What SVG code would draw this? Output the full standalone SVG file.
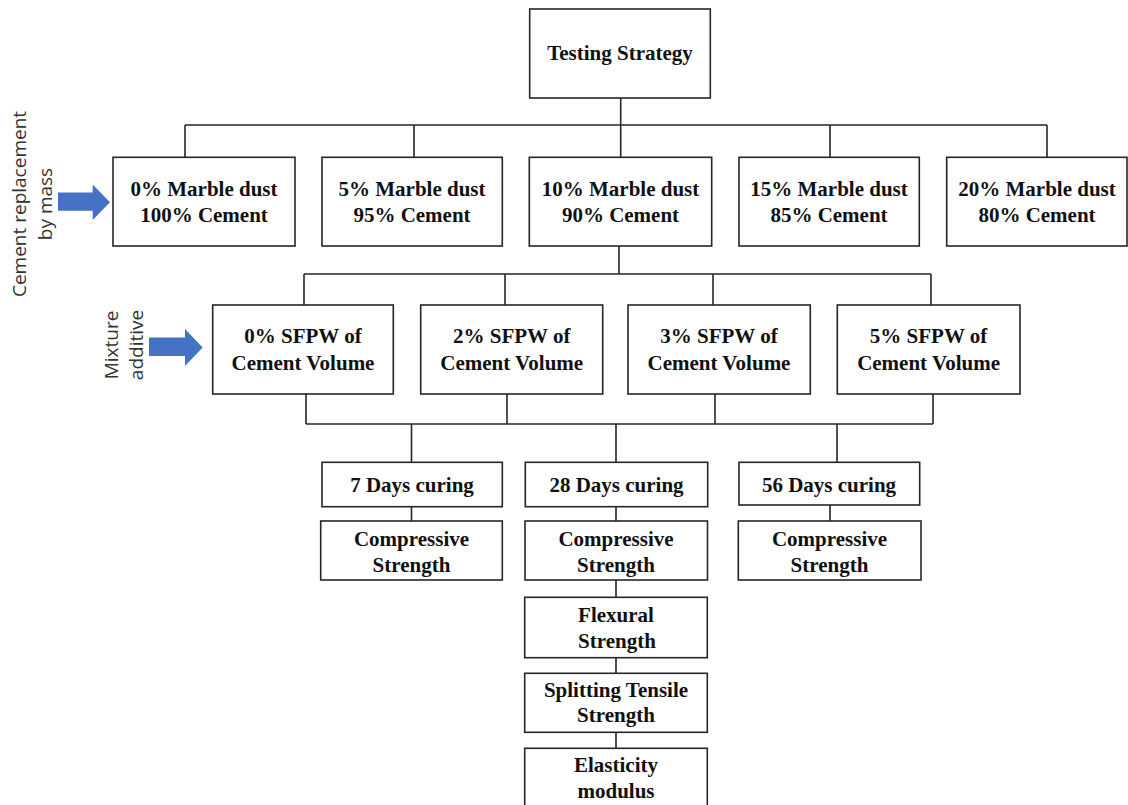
<svg xmlns="http://www.w3.org/2000/svg" width="1128" height="805" viewBox="0 0 1128 805">
<style>
.box{fill:#fff;stroke:#262626;stroke-width:1.6}
.t{font-family:"Liberation Serif","Times New Roman",serif;font-weight:bold;font-size:21px;fill:#111;text-anchor:middle}
.s{font-family:"Open Sans","Noto Sans",sans-serif;font-size:19px;fill:#333;text-anchor:middle}
.c{fill:none;stroke:#262626;stroke-width:1.6}
.arr{fill:#4472C4}
</style>
<rect width="1128" height="805" fill="#fff"/>
<g id="connectors">
<path class="c" d="M620.7 98V125M185 125H1047M185 125V157M414 125V157M620.7 125V157M830 125V157M1047 125V157"/>
<path class="c" d="M619 246V274M304 274H931M304 274V305M505 274V305M713 274V305M931 274V305"/>
<path class="c" d="M306 394V424M507 394V424M715 394V424M933 394V424M306 424H933M411.5 424V462M616 424V462M837 424V462"/>
<path class="c" d="M411.5 506V521M616 506V521M830 505V521M616 580V597M616 658V673M616 732V748"/>
</g>
<g id="label-cement">
<text class="s" transform="translate(26,204) rotate(-90)">Cement replacement</text>
<text class="s" transform="translate(52,204) rotate(-90)">by mass</text>
<path class="arr" d="M58 192.5H92.7V184.5L110 202.3L92.7 220V210.7H58Z"/>
</g>
<g id="label-mixture">
<text class="s" transform="translate(118,345) rotate(-90)">Mixture</text>
<text class="s" transform="translate(143,345) rotate(-90)">additive</text>
<path class="arr" d="M149 337.5H185V329L202.7 347.5L185 366V356H149Z"/>
</g>
<g id="n-testing"><rect class="box" x="529.7" y="9" width="180.6" height="89"/><text class="t" x="620" y="60">Testing Strategy</text></g>
<g id="n-md0"><rect class="box" x="113" y="157.3" width="182" height="88.7"/><text class="t" x="204" y="196">0% Marble dust</text><text class="t" x="204" y="222">100% Cement</text></g>
<g id="n-md5"><rect class="box" x="322" y="157.3" width="180.3" height="88.7"/><text class="t" x="412" y="196">5% Marble dust</text><text class="t" x="412" y="222">95% Cement</text></g>
<g id="n-md10"><rect class="box" x="529.3" y="157.3" width="182.4" height="88.7"/><text class="t" x="620.5" y="196">10% Marble dust</text><text class="t" x="620.5" y="222">90% Cement</text></g>
<g id="n-md15"><rect class="box" x="739" y="157.3" width="180.3" height="88.7"/><text class="t" x="829" y="196">15% Marble dust</text><text class="t" x="829" y="222">85% Cement</text></g>
<g id="n-md20"><rect class="box" x="946.7" y="157.3" width="180.3" height="88.7"/><text class="t" x="1037" y="196">20% Marble dust</text><text class="t" x="1037" y="222">80% Cement</text></g>
<g id="n-sf0"><rect class="box" x="212.7" y="305" width="180.6" height="89"/><text class="t" x="303" y="343">0% SFPW of</text><text class="t" x="303" y="370">Cement Volume</text></g>
<g id="n-sf2"><rect class="box" x="420.7" y="305" width="182" height="89"/><text class="t" x="511.7" y="343">2% SFPW of</text><text class="t" x="511.7" y="370">Cement Volume</text></g>
<g id="n-sf3"><rect class="box" x="628" y="305" width="182.3" height="89"/><text class="t" x="719" y="343">3% SFPW of</text><text class="t" x="719" y="370">Cement Volume</text></g>
<g id="n-sf5"><rect class="box" x="837.3" y="305" width="182.7" height="89"/><text class="t" x="928.6" y="343">5% SFPW of</text><text class="t" x="928.6" y="370">Cement Volume</text></g>
<g id="n-d7"><rect class="box" x="322" y="462.3" width="180.3" height="44.4"/><text class="t" x="412" y="492">7 Days curing</text></g>
<g id="n-d28"><rect class="box" x="525.3" y="462.3" width="182.4" height="44.4"/><text class="t" x="616.5" y="492">28 Days curing</text></g>
<g id="n-d56"><rect class="box" x="739" y="462.3" width="180.7" height="42.7"/><text class="t" x="829" y="492">56 Days curing</text></g>
<g id="n-cs7"><rect class="box" x="320.7" y="521" width="181.6" height="59"/><text class="t" x="411.5" y="546">Compressive</text><text class="t" x="411.5" y="572">Strength</text></g>
<g id="n-cs28"><rect class="box" x="525" y="521" width="182.5" height="59"/><text class="t" x="616" y="546">Compressive</text><text class="t" x="616" y="572">Strength</text></g>
<g id="n-cs56"><rect class="box" x="738.3" y="521" width="182.7" height="59"/><text class="t" x="829.5" y="546">Compressive</text><text class="t" x="829.5" y="572">Strength</text></g>
<g id="n-flex"><rect class="box" x="524.7" y="597.3" width="182.6" height="60.4"/><text class="t" x="616" y="622">Flexural</text><text class="t" x="617" y="648">Strength</text></g>
<g id="n-split"><rect class="box" x="524.7" y="673.3" width="182.6" height="59"/><text class="t" x="616" y="697">Splitting Tensile</text><text class="t" x="616" y="722">Strength</text></g>
<g id="n-elast"><rect class="box" x="524.7" y="748.3" width="182.6" height="64"/><text class="t" x="616" y="772">Elasticity</text><text class="t" x="616" y="798">modulus</text></g>
</svg>
